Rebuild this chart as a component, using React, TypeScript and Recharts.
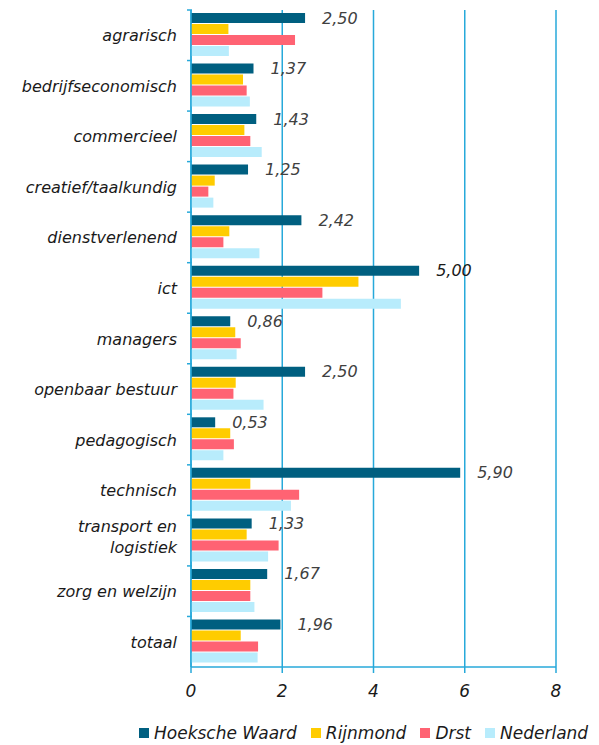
import React from 'react';
import { BarChart, Bar, XAxis, YAxis, CartesianGrid, LabelList } from 'recharts';

const categories = [
	'agrarisch',
	'bedrijfseconomisch',
	'commercieel',
	'creatief/taalkundig',
	'dienstverlenend',
	'ict',
	'managers',
	'openbaar bestuur',
	'pedagogisch',
	'technisch',
	'transport en logistiek',
	'zorg en welzijn',
	'totaal',
];

const hoekscheWaard = [2.5, 1.37, 1.43, 1.25, 2.42, 5.0, 0.86, 2.5, 0.53, 5.9, 1.33, 1.67, 1.96];
const rijnmond = [0.82, 1.14, 1.17, 0.52, 0.84, 3.67, 0.97, 0.98, 0.86, 1.3, 1.22, 1.3, 1.09];
const drst = [2.28, 1.22, 1.3, 0.38, 0.71, 2.88, 1.09, 0.93, 0.94, 2.37, 1.92, 1.3, 1.47];
const nederland = [0.83, 1.29, 1.55, 0.49, 1.5, 4.6, 1.0, 1.59, 0.71, 2.19, 1.69, 1.39, 1.46];

const xTicks = [0, 2, 4, 6, 8];

const series = [
	{ key: 'hw', name: 'Hoeksche Waard', color: '#005F80' },
	{ key: 'rm', name: 'Rijnmond', color: '#FFCC00' },
	{ key: 'drst', name: 'Drst', color: '#FF6373' },
	{ key: 'nl', name: 'Nederland', color: '#B8ECFC' },
];

const data = categories.map((name, i) => ({
	name,
	hw: hoekscheWaard[i],
	rm: rijnmond[i],
	drst: drst[i],
	nl: nederland[i],
}));

const blue = '#27A9DA';
const font = '"DejaVu Sans", Verdana, sans-serif';
const TOP = 10;
const X_AXIS_H = 30;
const BOTTOM = 78 - X_AXIS_H; // recharts adds the x axis height below the plot
const HEIGHT = 745;
const band = (HEIGHT - TOP - 78) / categories.length;

// greedy wrap on words, ~18 chars per line
const wrap = (s: string, max = 18) => {
	const lines: string[] = [];
	let cur = '';
	s.split(' ').forEach((w) => {
		const next = cur ? cur + ' ' + w : w;
		if (next.length > max && cur) {
			lines.push(cur);
			cur = w;
		} else cur = next;
	});
	if (cur) lines.push(cur);
	return lines;
};

const CategoryTick = (props: any) => {
	const { x, y, payload } = props;
	const lines = wrap(String(payload.value));
	const lh = 21;
	const y0 = y - ((lines.length - 1) * lh) / 2 - (lines.length > 1 ? 4 : 0);
	return (
		<g>
			<line x1={x + 4} x2={x + 9} y1={y - band / 2} y2={y - band / 2} stroke={blue} strokeWidth={1.5} />
			<text
				x={x - 6}
				y={y0}
				textAnchor='end'
				dominantBaseline='central'
				style={{ fontFamily: font, fontSize: 16, fontStyle: 'italic', fill: '#1a1a1a' }}
			>
				{lines.map((l, i) => (
					<tspan key={i} x={x - 6} dy={i === 0 ? 0 : lh}>
						{l}
					</tspan>
				))}
			</text>
		</g>
	);
};

const ValueLabel = (props: any) => {
	const { x, y, width, height, value, index } = props;
	return (
		<text
			x={x + width + 17}
			y={y + height / 2}
			dy={1}
			dominantBaseline='middle'
			style={{ fontFamily: font, fontSize: 16, fontStyle: 'italic', fill: index === 5 ? '#1a1a1a' : '#404040' }}
		>
			{Number(value).toFixed(2).replace('.', ',')}
		</text>
	);
};

// legend sits below the svg, like the original export
const ChartLegend = () => (
	<div
		style={{
			position: 'absolute',
			left: 139,
			top: 723,
			display: 'flex',
			alignItems: 'center',
			whiteSpace: 'nowrap',
			fontFamily: font,
			fontSize: 17,
			fontStyle: 'italic',
			color: '#1a1a1a',
		}}
	>
		{series.map((s) => (
			<div key={s.key} style={{ display: 'flex', alignItems: 'center', marginRight: 14 }}>
				<span style={{ display: 'inline-block', width: 10, height: 10, background: s.color, marginRight: 5 }} />
				<span>{s.name}</span>
			</div>
		))}
	</div>
);

export default function App() {
	return (
		<div style={{ position: 'absolute', left: 0, top: 0, width: 599, height: HEIGHT, background: '#fff' }}>
			<BarChart
				width={599}
				height={HEIGHT}
				data={data}
				layout='vertical'
				margin={{ top: TOP, right: 43, left: 0, bottom: BOTTOM }}
				barCategoryGap={3}
				barGap={1}
			>
				<CartesianGrid horizontal={false} stroke={blue} strokeWidth={1.5} />
				<XAxis
					type='number'
					domain={[0, 8]}
					ticks={xTicks}
					interval={0}
					height={X_AXIS_H}
					axisLine={{ stroke: blue, strokeWidth: 1.5 }}
					tickLine={{ stroke: blue, strokeWidth: 1.5 }}
					tickSize={6}
					tick={{ fontFamily: font, fontSize: 17, fontStyle: 'italic', fill: '#1a1a1a', dy: 10 }}
				/>
				<YAxis
					type='category'
					dataKey='name'
					width={191}
					interval={0}
					axisLine={{ stroke: blue, strokeWidth: 1.5 }}
					tickLine={false}
					tick={<CategoryTick />}
				/>
				{series.map((s) => (
					<Bar key={s.key} dataKey={s.key} name={s.name} fill={s.color} isAnimationActive={false}>
						{s.key === 'hw' ? <LabelList dataKey='hw' content={<ValueLabel />} /> : null}
					</Bar>
				))}
			</BarChart>
			<ChartLegend />
		</div>
	);
}
